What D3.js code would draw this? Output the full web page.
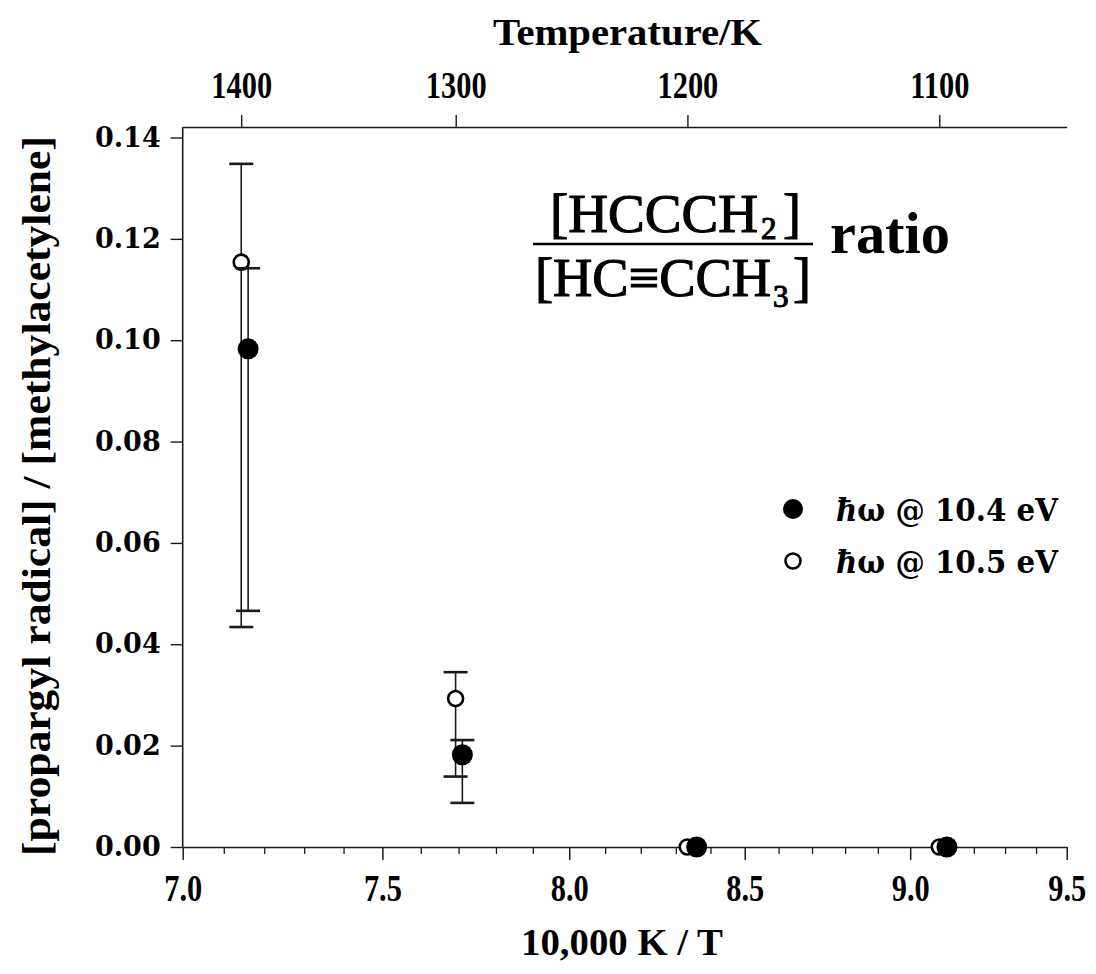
<!DOCTYPE html>
<html><head><meta charset="utf-8">
<script src="https://cdn.jsdelivr.net/npm/d3@7"></script>
<style>body{margin:0;background:#fff}</style>
</head><body>
<svg id="chart" width="1096" height="974"></svg>
<script>
// ---- data ----
const xDomain = [7.0, 9.5];
const yDomain = [0, 0.14];
const bottomTicks = [7.0, 7.5, 8.0, 8.5, 9.0, 9.5];
const bottomMinorTicks = [7.1,7.2,7.3,7.4,7.6,7.7,7.8,7.9,8.1,8.2,8.3,8.4,8.6,8.7,8.8,8.9,9.1,9.2,9.3,9.4];
const yTicks = [0, 0.02, 0.04, 0.06, 0.08, 0.10, 0.12, 0.14];
const topTicksK = [1400, 1300, 1200, 1100];

const s104_x  = [7.16, 7.71, 8.36, 9.115];
const s104_y  = [0.0983, 0.0182, 0, 0];
const s104_lo = [0.0466, 0.0087, null, null];
const s104_hi = [0.1142, 0.0211, null, null];

const s105_x  = [7.143, 7.692, 8.333, 9.091];
const s105_y  = [0.1154, 0.0293, 0, 0];
const s105_lo = [0.0434, 0.0139, null, null];
const s105_hi = [0.1348, 0.0345, null, null];

const legendLabels = ["10.4 eV", "10.5 eV"];

// ---- drawing ----
const svg = d3.select("#chart");
const L = 182.7, R = 1066.7, B = 847, T0 = 137.5, TOPLINE = 127;
const x = d3.scaleLog().domain(xDomain).range([L, R]);
const y = d3.scaleLinear().domain(yDomain).range([B, T0]);
const ink = "#1a1a1a";
const serifB = "'Liberation Serif', 'Times New Roman', serif";
const serifW = "'DejaVu Serif', serif";

// bottom axis (major)
const gB = svg.append("g").attr("transform", `translate(0,${B})`)
  .call(d3.axisBottom(x).tickValues(bottomTicks).tickFormat(d3.format(".1f")).tickSize(13).tickSizeOuter(0).tickPadding(14));
gB.select(".domain").attr("stroke", ink).attr("stroke-width", 1.6);
gB.selectAll(".tick line").attr("stroke", ink).attr("stroke-width", 1.5);
gB.selectAll(".tick text").attr("font-family", serifB).attr("font-weight", "bold").attr("font-size", 38)
  .attr("transform", "scale(0.8,1)").attr("fill", "#000");
// bottom minor
const gBm = svg.append("g").attr("transform", `translate(0,${B})`)
  .call(d3.axisBottom(x).tickValues(bottomMinorTicks).tickFormat("").tickSize(7).tickSizeOuter(0));
gBm.select(".domain").remove();
gBm.selectAll(".tick line").attr("stroke", ink).attr("stroke-width", 1.3);

// top axis (temperature)
const gT = svg.append("g").attr("transform", `translate(0,${TOPLINE})`)
  .call(d3.axisTop(x).tickValues(topTicksK.map(t => 10000 / t)).tickFormat((d, i) => topTicksK[i]).tickSize(12).tickSizeOuter(0).tickPadding(17));
gT.select(".domain").attr("stroke", ink).attr("stroke-width", 1.6);
gT.selectAll(".tick line").attr("stroke", ink).attr("stroke-width", 1.4);
gT.selectAll(".tick text").attr("font-family", serifB).attr("font-weight", "bold").attr("font-size", 38)
  .attr("transform", "scale(0.8,1)").attr("fill", "#000");

// left axis
const gL = svg.append("g").attr("transform", `translate(${L},0)`)
  .call(d3.axisLeft(y).tickValues(yTicks).tickFormat(d3.format(".2f")).tickSize(12).tickSizeOuter(0).tickPadding(10));
gL.select(".domain").remove();
gL.append("line").attr("x1", 0).attr("x2", 0).attr("y1", TOPLINE).attr("y2", B).attr("stroke", ink).attr("stroke-width", 1.6);
gL.selectAll(".tick line").attr("stroke", ink).attr("stroke-width", 1.4);
gL.selectAll(".tick text").attr("font-family", serifW).attr("font-weight", "bold").attr("font-size", 27).attr("fill", "#000");

// axis titles
svg.append("text").attr("x", 627.5).attr("y", 45).attr("text-anchor", "middle")
  .attr("font-family", serifB).attr("font-weight", "bold").attr("font-size", 38)
  .attr("textLength", 269).attr("lengthAdjust", "spacingAndGlyphs").text("Temperature/K");
svg.append("text").attr("x", 622).attr("y", 955).attr("text-anchor", "middle")
  .attr("font-family", serifB).attr("font-weight", "bold").attr("font-size", 38)
  .attr("textLength", 202).attr("lengthAdjust", "spacingAndGlyphs").text("10,000 K / T");
svg.append("text").attr("transform", "translate(50,496) rotate(-90)").attr("text-anchor", "middle")
  .attr("font-family", serifB).attr("font-weight", "bold").attr("font-size", 41)
  .attr("textLength", 720).attr("lengthAdjust", "spacingAndGlyphs").text("[propargyl radical] / [methylacetylene]");

// error bars + points
function drawSeries(xs, ys, lo, hi, filled) {
  const g = svg.append("g");
  xs.forEach((xv, i) => {
    if (lo[i] !== null) {
      const cx = x(xv);
      g.append("line").attr("x1", cx).attr("x2", cx).attr("y1", y(lo[i])).attr("y2", y(hi[i])).attr("stroke", ink).attr("stroke-width", 1.6);
      [lo[i], hi[i]].forEach(v => g.append("line").attr("x1", cx - 12).attr("x2", cx + 12).attr("y1", y(v)).attr("y2", y(v)).attr("stroke", ink).attr("stroke-width", 2.6));
    }
  });
  xs.forEach((xv, i) => {
    const c = g.append("circle").attr("cx", x(xv)).attr("cy", y(ys[i]));
    if (filled) c.attr("r", 10.5).attr("fill", "#000");
    else c.attr("r", 7.5).attr("fill", "#fff").attr("stroke", "#000").attr("stroke-width", 2.6);
  });
}
drawSeries(s105_x, s105_y, s105_lo, s105_hi, false);
drawSeries(s104_x, s104_y, s104_lo, s104_hi, true);

// legend
const lg = svg.append("g");
[[509, true, 0], [561, false, 1]].forEach(([cy, filled, i]) => {
  const c = lg.append("circle").attr("cx", 793).attr("cy", cy);
  if (filled) c.attr("r", 10).attr("fill", "#000");
  else c.attr("r", 7.5).attr("fill", "#fff").attr("stroke", "#000").attr("stroke-width", 2.6);
  const t = lg.append("text").attr("x", 836).attr("y", cy + 12)
    .attr("font-family", serifW).attr("font-weight", "bold").attr("font-size", 32)
    .attr("textLength", 222).attr("lengthAdjust", "spacingAndGlyphs");
  t.append("tspan").attr("font-style", "italic").text("ħ");
  t.append("tspan").text("ω @ " + legendLabels[i]);
});

// formula annotation
const fg = svg.append("g").attr("font-family", serifB).attr("fill", "#000").attr("stroke", "#000").attr("stroke-width", 1.1);
fg.append("text").attr("x", 550).attr("y", 232).attr("font-size", 54).attr("textLength", 208).attr("lengthAdjust", "spacingAndGlyphs").text("[HCCCH");
fg.append("text").attr("x", 761).attr("y", 239).attr("font-size", 31).text("2");
fg.append("text").attr("x", 783).attr("y", 232).attr("font-size", 54).text("]");
fg.append("line").attr("x1", 533).attr("x2", 813).attr("y1", 244).attr("y2", 244).attr("stroke", "#000").attr("stroke-width", 2.6);
fg.append("text").attr("x", 535).attr("y", 296).attr("font-size", 54).attr("textLength", 236).attr("lengthAdjust", "spacingAndGlyphs").text("[HC≡CCH");
fg.append("text").attr("x", 773).attr("y", 307).attr("font-size", 31).text("3");
fg.append("text").attr("x", 793).attr("y", 296).attr("font-size", 54).text("]");
fg.append("text").attr("x", 830).attr("y", 253).attr("font-size", 60).attr("font-weight", "bold").attr("stroke-width", 0)
  .attr("textLength", 120).attr("lengthAdjust", "spacingAndGlyphs").text("ratio");
</script>
</body></html>
